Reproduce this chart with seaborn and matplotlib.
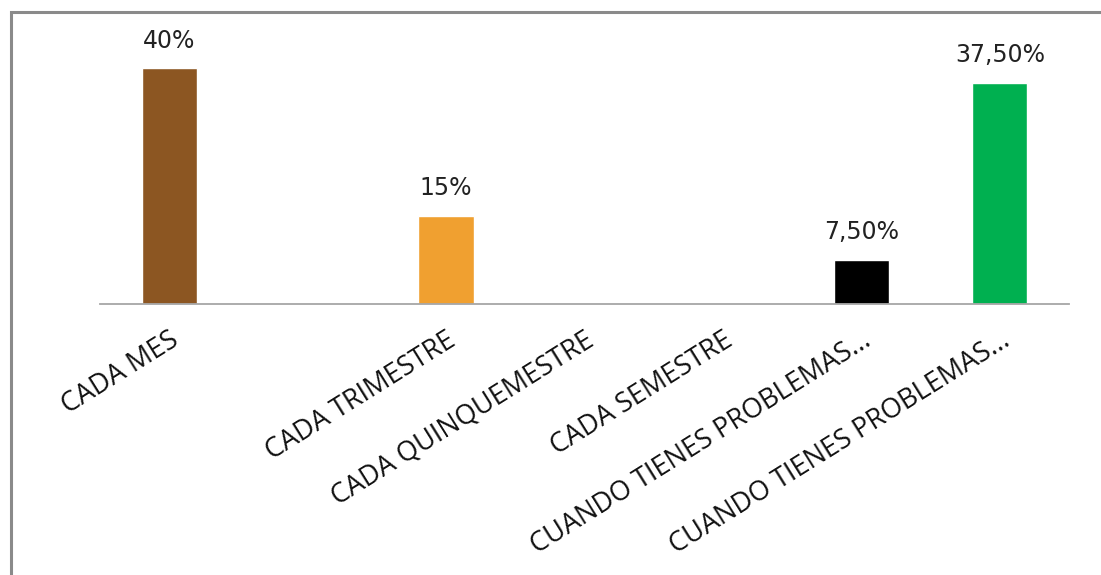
import matplotlib
matplotlib.use("Agg")
import matplotlib.pyplot as plt
import seaborn as sns
import pandas as pd
from matplotlib.patches import Rectangle

categories = ["CADA MES", " ", "CADA TRIMESTRE", "CADA QUINQUEMESTRE", "CADA SEMESTRE",
              "CUANDO TIENES PROBLEMAS...", "CUANDO TIENES PROBLEMAS... "]
values = [40, 0, 15, 0, 0, 7.5, 37.5]
value_labels = ["40%", "", "15%", "", "", "7,50%", "37,50%"]
colors = ["#8C5622", "#FFFFFF", "#F0A030", "#FFFFFF", "#FFFFFF", "#000000", "#00B050"]
tick_labels = ["CADA MES", "", "CADA TRIMESTRE", "CADA QUINQUEMESTRE", "CADA SEMESTRE",
               "CUANDO TIENES PROBLEMAS...", "CUANDO TIENES PROBLEMAS..."]

df = pd.DataFrame({"cat": categories, "val": values})

sns.set_theme(style="white")
plt.rcParams["font.family"] = ["Open Sans", "DejaVu Sans"]

W, H = 1101, 575
fig = plt.figure(figsize=(W / 100, H / 100), dpi=100)
fig.patch.set_facecolor("white")
ax = fig.add_axes([100 / W, 1 - 304 / H, 969 / W, (304 - 38.5) / H])

sns.barplot(data=df, x="cat", y="val", hue="cat", order=categories, hue_order=categories,
            palette=dict(zip(categories, colors)), width=0.4, legend=False,
            saturation=1, ax=ax)

ax.set_ylim(0, 45)
ax.set_xlim(-0.5, len(categories) - 0.5)
ax.set_xlabel("")
ax.set_ylabel("")
ax.set_yticks([])
for s in ["left", "right", "top"]:
    ax.spines[s].set_visible(False)
ax.spines["bottom"].set_color("#A6A6A6")
ax.spines["bottom"].set_linewidth(1.3)

ax.set_xticks(range(len(categories)))
ax.set_xticklabels(tick_labels, rotation=32, ha="right", rotation_mode="anchor",
                   fontsize=19.5, color="#111111", family=["Open Sans", "DejaVu Sans"])
ax.tick_params(axis="x", length=0, pad=16)

for i, (v, lab) in enumerate(zip(values, value_labels)):
    if lab:
        ax.annotate(lab, (i, v), xytext=(0, 11), textcoords="offset points",
                    ha="center", va="bottom", fontsize=17, color="#222222",
                    family=["DejaVu Sans"])

fig.patches.append(Rectangle((11 / W, -0.1), 1.2, 1 - 12 / H + 0.1,
                             transform=fig.transFigure, fill=False,
                             edgecolor="#8A8A8A", linewidth=2.2))

fig.savefig("out.png", dpi=100)
